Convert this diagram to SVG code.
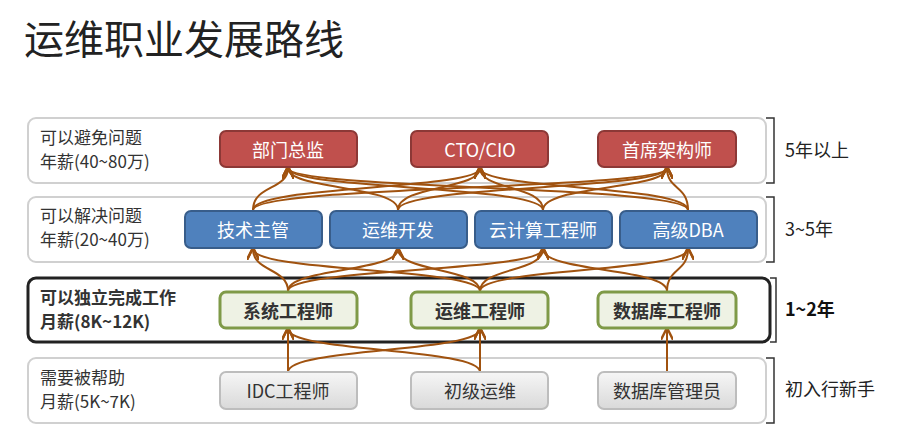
<svg xmlns="http://www.w3.org/2000/svg" width="901" height="426" viewBox="0 0 901 426">
<style>
text{font-family:"Noto Sans CJK SC","Liberation Sans",sans-serif}
.band{fill:#fff;stroke:#d0d0d0;stroke-width:2}
.lab{font-size:17px;fill:#333}
.nt{font-size:18px;text-anchor:middle;dominant-baseline:central}
.red{fill:#c0504d;stroke:#8c3836;stroke-width:2}
.blue{fill:#4f81bd;stroke:#385d8a;stroke-width:2}
.green{fill:#eef2e4;stroke:#7f9a48;stroke-width:3}
.gray{fill:url(#gg);stroke:#bdbdbd;stroke-width:2}
.c path{fill:none;stroke:#a0520f;stroke-width:2;marker-end:url(#ah)}
.br{fill:none;stroke:#333;stroke-width:1.5}
</style>
<defs>
<linearGradient id="gg" x1="0" y1="0" x2="0" y2="1"><stop offset="0" stop-color="#f6f6f6"/><stop offset="1" stop-color="#d9d9d9"/></linearGradient>
<marker id="ah" viewBox="0 0 10 10" refX="9" refY="5" markerWidth="6" markerHeight="6" orient="auto"><path d="M0,0L10,5L0,10" fill="none" stroke="#a0520f" stroke-width="2"/></marker>
</defs>
<rect width="901" height="426" fill="#fff"/>
<text x="24" y="54" font-size="40" fill="#222">运维职业发展路线</text>
<g id="bands">
<rect class="band" x="28" y="118" width="738" height="65" rx="8"/>
<rect class="band" x="28" y="197" width="738" height="65" rx="8"/>
<rect x="28" y="278" width="742" height="64" rx="8" fill="#fff" stroke="#222" stroke-width="3"/>
<rect class="band" x="28" y="358" width="738" height="65" rx="8"/>
<text class="lab" x="40" y="144">可以避免问题</text><text class="lab" x="40" y="168">年薪(40~80万)</text>
<text class="lab" x="40" y="222">可以解决问题</text><text class="lab" x="40" y="246">年薪(20~40万)</text>
<text class="lab" x="40" y="304" font-weight="bold" fill="#111">可以独立完成工作</text><text class="lab" x="40" y="328" font-weight="bold" fill="#111">月薪(8K~12K)</text>
<text class="lab" x="40" y="384">需要被帮助</text><text class="lab" x="40" y="408">月薪(5K~7K)</text>
<path class="br" d="M766,118H774V183H766M766,197H774V262H766M770,278H776V342H770M766,358H774V423H766"/>
<text x="785" y="157" font-size="18" fill="#222">5年以上</text>
<text x="785" y="236" font-size="18" fill="#222">3~5年</text>
<text x="785" y="316" font-size="18" font-weight="bold" fill="#111">1~2年</text>
<text x="785" y="396" font-size="18" fill="#222">初入行新手</text>
</g>
<g class="c">
<path d="M253,210C253,185 288,190 288,168"/><path d="M253,210C253,185 480,190 480,168"/><path d="M253,210C253,185 667,190 667,168"/>
<path d="M398,210C398,185 288,190 288,168"/><path d="M398,210C398,185 480,190 480,168"/><path d="M398,210C398,185 667,190 667,168"/>
<path d="M543,210C543,185 288,190 288,168"/><path d="M543,210C543,185 480,190 480,168"/><path d="M543,210C543,185 667,190 667,168"/>
<path d="M688,210C688,185 288,190 288,168"/><path d="M688,210C688,185 480,190 480,168"/><path d="M688,210C688,185 667,190 667,168"/>
<path d="M288,291C288,268 253,272 253,249"/><path d="M288,291C288,268 398,272 398,249"/><path d="M288,291C288,268 543,272 543,249"/>
<path d="M480,291C480,268 253,272 253,249"/><path d="M480,291C480,268 398,272 398,249"/><path d="M480,291C480,268 543,272 543,249"/><path d="M480,291C480,268 688,272 688,249"/>
<path d="M667,291C667,268 543,272 543,249"/><path d="M667,291C667,268 688,272 688,249"/>
<path d="M288,372C288,350 288,350 288,329"/><path d="M288,372C288,348 480,352 480,329"/>
<path d="M480,372C480,348 288,352 288,329"/><path d="M480,372C480,350 480,350 480,329"/>
<path d="M667,372C667,350 667,350 667,329"/>
</g>
<g id="n1"><rect class="red" x="220" y="131" width="137" height="36" rx="6"/><text class="nt" x="288" y="149" fill="#fff">部门总监</text></g>
<g id="n2"><rect class="red" x="411" y="131" width="137" height="36" rx="6"/><text class="nt" x="480" y="149" fill="#fff">CTO/CIO</text></g>
<g id="n3"><rect class="red" x="598" y="131" width="138" height="36" rx="6"/><text class="nt" x="667" y="149" fill="#fff">首席架构师</text></g>
<g id="n4"><rect class="blue" x="185" y="211" width="137" height="37" rx="6"/><text class="nt" x="253" y="229" fill="#fff">技术主管</text></g>
<g id="n5"><rect class="blue" x="330" y="211" width="137" height="37" rx="6"/><text class="nt" x="398" y="229" fill="#fff">运维开发</text></g>
<g id="n6"><rect class="blue" x="475" y="211" width="137" height="37" rx="6"/><text class="nt" x="543" y="229" fill="#fff">云计算工程师</text></g>
<g id="n7"><rect class="blue" x="620" y="211" width="137" height="37" rx="6"/><text class="nt" x="688" y="229" fill="#fff">高级DBA</text></g>
<g id="n8"><rect class="green" x="220" y="292" width="137" height="36" rx="6"/><text class="nt" x="288" y="310" fill="#333" font-weight="bold">系统工程师</text></g>
<g id="n9"><rect class="green" x="411" y="292" width="137" height="36" rx="6"/><text class="nt" x="480" y="310" fill="#333" font-weight="bold">运维工程师</text></g>
<g id="n10"><rect class="green" x="598" y="292" width="138" height="36" rx="6"/><text class="nt" x="667" y="310" fill="#333" font-weight="bold">数据库工程师</text></g>
<g id="n11"><rect class="gray" x="220" y="372" width="137" height="37" rx="6"/><text class="nt" x="288" y="390" fill="#333">IDC工程师</text></g>
<g id="n12"><rect class="gray" x="411" y="372" width="137" height="37" rx="6"/><text class="nt" x="480" y="390" fill="#333">初级运维</text></g>
<g id="n13"><rect class="gray" x="598" y="372" width="138" height="37" rx="6"/><text class="nt" x="667" y="390" fill="#333">数据库管理员</text></g>
</svg>
